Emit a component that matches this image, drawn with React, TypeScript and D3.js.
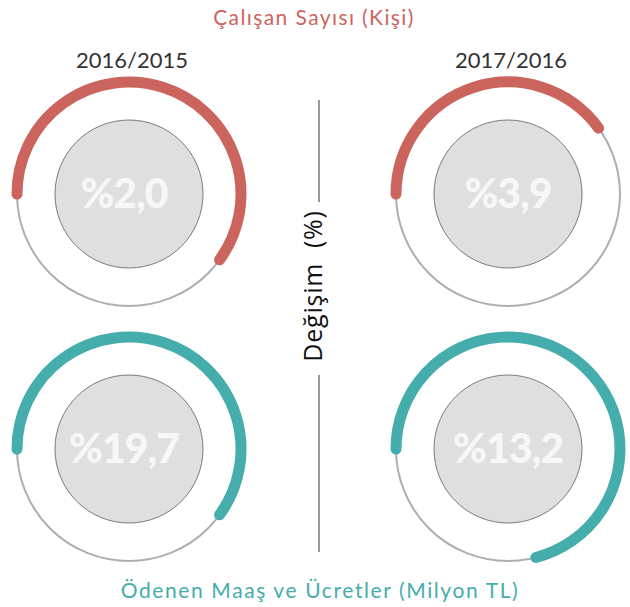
import React from 'react';
import * as d3 from 'd3';

// veriler
const periods = ['2016/2015', '2017/2016'];
const metrics = ['Çalışan Sayısı (Kişi)', 'Ödenen Maaş ve Ücretler (Milyon TL)'];
const employeeChange = [2.0, 3.9];
const wageChange = [19.7, 13.2];
// dolu yay oranı (tam daire = 1)
const employeeArc = [0.60, 0.40];
const wageArc = [0.60, 0.71];
const axisLabel = 'Değişim  (%)';

const width = 630;
const height = 607;
const colors = ['#cc645e', '#45adab'];

const x = d3.scalePoint<string>().domain(periods).range([129, 508]);
const y = d3.scalePoint<string>().domain(metrics).range([194, 449]);
const angle = d3.scaleLinear().domain([0, 1]).range([0, 2 * Math.PI]);

const R = 112;
const innerR = 74;

const fmt = (v: number) => '%' + d3.format('.1f')(v).replace('.', ',');

function arcPath(frac: number) {
  const p = d3.path();
  const a0 = -Math.PI;
  const a1 = a0 + angle(frac);
  p.moveTo(R * Math.cos(a0), R * Math.sin(a0));
  p.arc(0, 0, R, a0, a1, false);
  return p.toString();
}

const Gauge = ({ cx, cy, value, frac, color, dx }: any) => (
  <g transform={`translate(${cx},${cy})`}>
    <circle r={R} fill="none" stroke="#abafb2" strokeWidth={2} />
    <path d={arcPath(frac)} fill="none" stroke={color} strokeWidth={11} strokeLinecap="round" />
    <circle r={innerR} fill="#dfdfdf" stroke="#7a7a7a" strokeWidth={1} />
    <text
      x={dx}
      y={14}
      textAnchor="middle"
      fill="#f7f7f7"
      style={{ fontFamily: 'Lato, sans-serif', fontWeight: 900, fontSize: 41, letterSpacing: -1 }}
    >
      {fmt(value)}
    </text>
  </g>
);

export default function App() {
  const series = [employeeChange, wageChange];
  const arcs = [employeeArc, wageArc];
  const midX = (x(periods[0])! + x(periods[1])!) / 2;
  return (
    <svg width={width} height={height} style={{ position: 'absolute', left: 0, top: 0 }}>
      <rect width={width} height={height} fill="#fff" />
      <text x={314} y={25} textAnchor="middle" fill={colors[0]}
        style={{ fontFamily: 'Lato, sans-serif', fontSize: 21, letterSpacing: 1.4 }}>
        {metrics[0]}
      </text>
      <text x={320} y={598} textAnchor="middle" fill={colors[1]}
        style={{ fontFamily: 'Lato, sans-serif', fontSize: 21, letterSpacing: 1.6 }}>
        {metrics[1]}
      </text>
      {periods.map((p) => (
        <text key={p} x={x(p)! + 3} y={68} textAnchor="middle" fill="#333"
          style={{ fontFamily: 'Lato, sans-serif', fontSize: 22 }}>
          {p}
        </text>
      ))}
      {metrics.map((m, i) =>
        periods.map((p, j) => (
          <Gauge key={m + p} cx={x(p)} cy={y(m)} value={series[i][j]} frac={arcs[i][j]}
            color={colors[i]} dx={j === 0 ? -5 : 0} />
        ))
      )}
      <line x1={midX + 0.5} x2={midX + 0.5} y1={100} y2={202} stroke="#777" strokeWidth={1.5} />
      <line x1={midX + 0.5} x2={midX + 0.5} y1={375} y2={552} stroke="#777" strokeWidth={1.5} />
      <text transform={`translate(${midX + 3},286) rotate(-90)`} textAnchor="middle" fill="#111"
        style={{ fontFamily: '"Open Sans", sans-serif', fontSize: 25, letterSpacing: 0.8, whiteSpace: 'pre' }}>
        {axisLabel}
      </text>
    </svg>
  );
}
